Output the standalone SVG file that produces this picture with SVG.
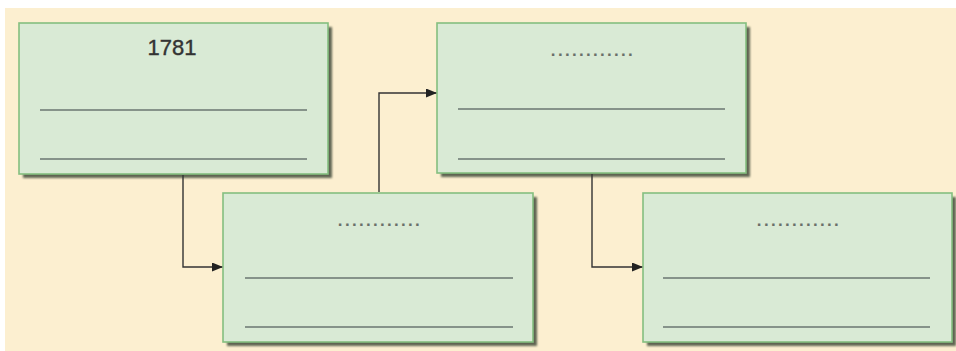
<svg xmlns="http://www.w3.org/2000/svg" width="956" height="351" viewBox="0 0 956 351">
<defs>
<style>
.box{fill:#d9ead5;stroke:#84bf7f;stroke-width:1.6}
.sh{fill:#4f5744;opacity:0.9}
.ln{stroke:#86938a;stroke-width:2.2}
.dots{font-family:"Liberation Sans",Arial,sans-serif;font-size:17px;font-weight:bold;fill:#6a6f6a;letter-spacing:2.3px}
.yr{font-family:"Liberation Sans",Arial,sans-serif;font-size:22px;fill:#333;stroke:#333;stroke-width:0.4}
.con{fill:none;stroke:#333;stroke-width:1.4}
</style>
<filter id="blur" x="-5%" y="-5%" width="110%" height="115%"><feGaussianBlur stdDeviation="1.2"/></filter>
<marker id="arr" markerWidth="11" markerHeight="9" refX="10" refY="4.5" orient="auto" markerUnits="userSpaceOnUse">
<path d="M0,0 L11,4.5 L0,9 Z" fill="#222"/>
</marker>
</defs>
<rect x="0" y="0" width="956" height="351" fill="#ffffff"/>
<rect x="5" y="8" width="951" height="343" fill="#fcefd0"/>
<g id="node1">
<rect class="sh" x="23" y="27" width="309" height="151" filter="url(#blur)"/>
<rect class="box" x="19" y="23" width="309" height="151"/>
<text class="yr" x="172" y="55" text-anchor="middle">1781</text>
<line class="ln" x1="40" y1="110" x2="307" y2="110"/>
<line class="ln" x1="40" y1="159" x2="307" y2="159"/>
</g>
<g id="node2">
<rect class="sh" x="227" y="197" width="310" height="149" filter="url(#blur)"/>
<rect class="box" x="223" y="193" width="310" height="149"/>
<text class="dots" x="380" y="226" text-anchor="middle">............</text>
<line class="ln" x1="245" y1="278" x2="513" y2="278"/>
<line class="ln" x1="245" y1="327" x2="513" y2="327"/>
</g>
<g id="node3">
<rect class="sh" x="441" y="27" width="309" height="150" filter="url(#blur)"/>
<rect class="box" x="437" y="23" width="309" height="150"/>
<text class="dots" x="593" y="56" text-anchor="middle">............</text>
<line class="ln" x1="458" y1="109" x2="725" y2="109"/>
<line class="ln" x1="458" y1="159" x2="725" y2="159"/>
</g>
<g id="node4">
<rect class="sh" x="647" y="197" width="309" height="149" filter="url(#blur)"/>
<rect class="box" x="643" y="193" width="309" height="149"/>
<text class="dots" x="799" y="226" text-anchor="middle">............</text>
<line class="ln" x1="663" y1="278" x2="930" y2="278"/>
<line class="ln" x1="663" y1="327" x2="930" y2="327"/>
</g>
<g id="connectors">
<path class="con" d="M183,175 V267 H222" marker-end="url(#arr)"/>
<path class="con" d="M379,192 V93 H436" marker-end="url(#arr)"/>
<path class="con" d="M592,174 V267 H642" marker-end="url(#arr)"/>
</g>
</svg>
